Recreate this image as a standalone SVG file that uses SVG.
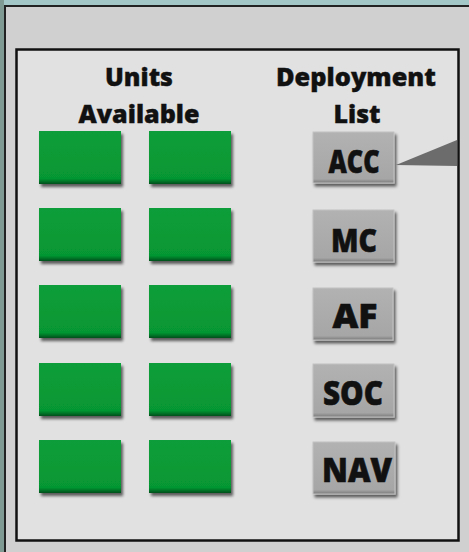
<svg xmlns="http://www.w3.org/2000/svg" width="469" height="552" viewBox="0 0 469 552">
<defs>
<filter id="sh" x="-20%" y="-20%" width="150%" height="160%">
<feGaussianBlur in="SourceAlpha" stdDeviation="1.6"/>
<feOffset dx="2" dy="3" result="b"/>
<feComponentTransfer><feFuncA type="linear" slope="0.6"/></feComponentTransfer>
<feMerge><feMergeNode/><feMergeNode in="SourceGraphic"/></feMerge>
</filter>
<linearGradient id="gg" x1="0" y1="0" x2="0" y2="1">
<stop offset="0" stop-color="#0d9e3a"/>
<stop offset="0.9" stop-color="#069733"/>
<stop offset="1" stop-color="#04501a"/>
</linearGradient>
<linearGradient id="gr" x1="0" y1="0" x2="0" y2="1">
<stop offset="0" stop-color="#b2b2b2"/>
<stop offset="0.92" stop-color="#a6a6a6"/>
<stop offset="1" stop-color="#7a7a7a"/>
</linearGradient>
</defs>
<style>
.hd{font-family:"Open Sans","Liberation Sans",sans-serif;font-weight:800;font-size:25px;fill:#111;stroke:#111;stroke-width:0.4;text-anchor:middle}
.lb{font-family:"Open Sans","Liberation Sans",sans-serif;font-weight:800;font-size:31px;fill:#111;stroke:#111;stroke-width:0.6;text-anchor:middle}
.big{font-size:34px}
.unit{fill:url(#gg);filter:url(#sh)}
.dep{fill:url(#gr);stroke:#c2c2c2;stroke-width:1;filter:url(#sh)}
</style>
<rect x="0" y="0" width="469" height="552" fill="#a3c7c6"/>
<rect x="0" y="0" width="4" height="552" fill="#7f9a92"/>
<rect x="5" y="6" width="470" height="550" fill="#d0d0d0" stroke="#222" stroke-width="2"/>
<g id="panel">
<rect x="16.5" y="49.5" width="442" height="491" fill="#e1e1e1" stroke="#111" stroke-width="2.5"/>
<text class="hd" x="139" y="86" textLength="68" lengthAdjust="spacingAndGlyphs">Units</text>
<text class="hd" x="139" y="123" textLength="121" lengthAdjust="spacingAndGlyphs">Available</text>
<text class="hd" x="356" y="86" textLength="160" lengthAdjust="spacingAndGlyphs">Deployment</text>
<text class="hd" x="357" y="123" textLength="47" lengthAdjust="spacingAndGlyphs">List</text>
</g>
<g id="units">
<rect id="u1" class="unit" x="39" y="131" width="82" height="53"/>
<rect id="u2" class="unit" x="149" y="131" width="82" height="53"/>
<rect id="u3" class="unit" x="39" y="208" width="82" height="53"/>
<rect id="u4" class="unit" x="149" y="208" width="82" height="53"/>
<rect id="u5" class="unit" x="39" y="285" width="82" height="53"/>
<rect id="u6" class="unit" x="149" y="285" width="82" height="53"/>
<rect id="u7" class="unit" x="39" y="363" width="82" height="53"/>
<rect id="u8" class="unit" x="149" y="363" width="82" height="53"/>
<rect id="u9" class="unit" x="39" y="440" width="82" height="53"/>
<rect id="u10" class="unit" x="149" y="440" width="82" height="53"/>
</g>
<g id="connectors">
<polygon points="396,165 457,140 457,166" fill="#6c6c6c"/>
</g>
<g id="ACC"><rect class="dep" x="313" y="132" width="81" height="51"/><text class="lb" x="354" y="173" textLength="51" lengthAdjust="spacingAndGlyphs">ACC</text></g>
<g id="MC"><rect class="dep" x="313" y="210" width="81" height="52"/><text class="lb" x="354" y="252" textLength="46" lengthAdjust="spacingAndGlyphs">MC</text></g>
<g id="AF"><rect class="dep" x="313" y="288" width="80" height="52"/><text class="lb big" x="355" y="328" textLength="45" lengthAdjust="spacingAndGlyphs">AF</text></g>
<g id="SOC"><rect class="dep" x="313" y="364" width="81" height="53"/><text class="lb big" x="353" y="405" textLength="60" lengthAdjust="spacingAndGlyphs">SOC</text></g>
<g id="NAV"><rect class="dep" x="313" y="442" width="82" height="52"/><text class="lb big" x="357" y="482" textLength="70" lengthAdjust="spacingAndGlyphs">NAV</text></g>
</svg>
